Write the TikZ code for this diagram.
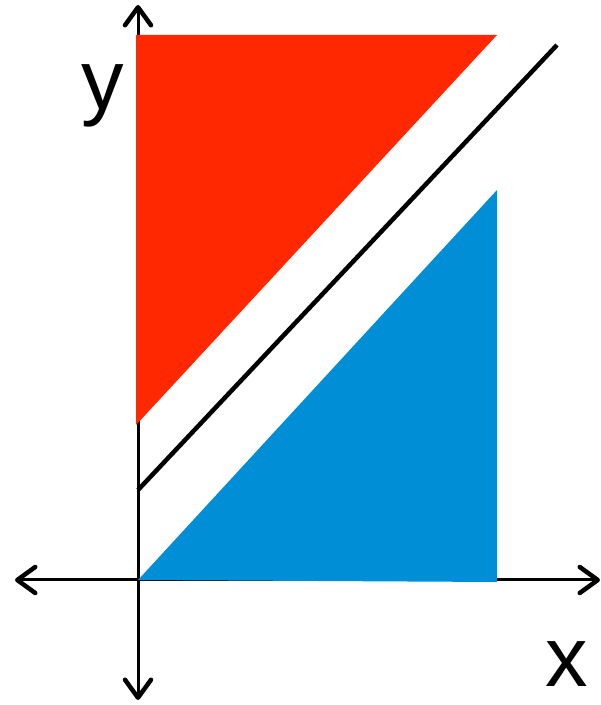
\documentclass[tikz,border=0pt]{standalone}
\usepackage{fontspec}
\setmainfont{Liberation Sans}
\usetikzlibrary{arrows.meta}
\definecolor{regionred}{RGB}{255,40,0}
\definecolor{regionblue}{RGB}{0,142,214}
\begin{document}
\begin{tikzpicture}[
  x=1pt, y=1pt,
  axis/.style={line width=3pt, {Straight Barb[length=18pt, width=26pt, line width=4.5pt, round]}-{Straight Barb[length=18pt, width=26pt, line width=4.5pt, round]}},
  boundary/.style={line width=4.5pt},
  label/.style={font=\fontsize{85}{85}\selectfont, anchor=base}
]
\useasboundingbox (0,0) rectangle (601,705);
% axes
\coordinate (Xl) at (15,125);
\coordinate (Xr) at (600,125);
\coordinate (Yb) at (138,5);
\coordinate (Yt) at (138,700);
\draw[axis] (Xl) -- (Xr);
\draw[axis] (Yb) -- (Yt);
% regions
\fill[regionred] (136,670) -- (497,670) -- (136,280) -- cycle;
\fill[regionblue] (138,125) -- (497,515) -- (497,123) -- cycle;
% separating line
\coordinate (Ls) at (138,215);
\coordinate (Le) at (557,660);
\draw[boundary] (Ls) -- (Le);
% labels
\node[label] (ylab) at (103,595) {y};
\node[label] (xlab) at (567,18) {x};
\end{tikzpicture}
\end{document}
